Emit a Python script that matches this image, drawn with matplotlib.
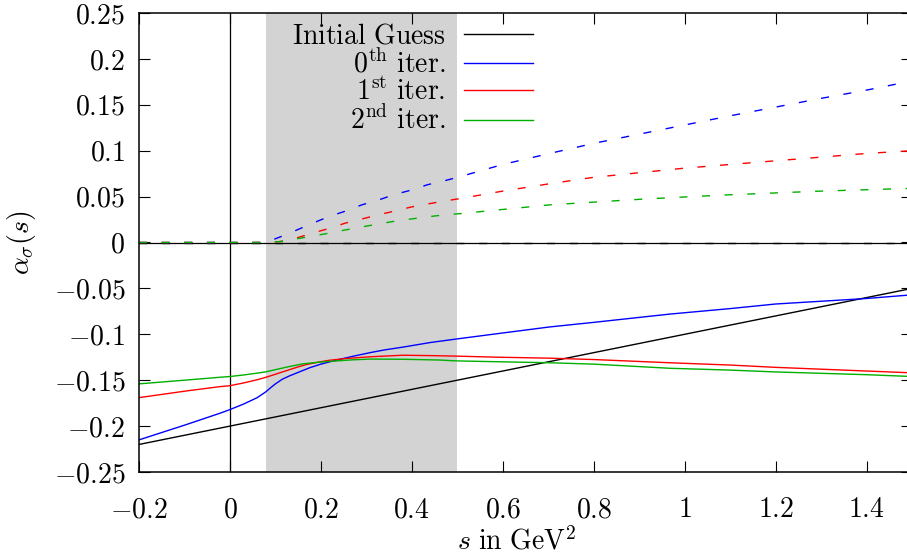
import matplotlib
matplotlib.use("Agg")
import matplotlib.pyplot as plt
from matplotlib.ticker import FuncFormatter, MultipleLocator

# threshold region (4 m_pi^2 up to 0.5 GeV^2)
shade_lo = 0.0784
shade_hi = 0.5

# initial guess (straight line)
guess_s = [-0.2, 1.5]
guess_re = [-0.22, -0.05]
guess_im = [0.0, 0.0]

# 0th iteration
it0_s = [-0.2, -0.1, -0.022, 0.0, 0.03, 0.06, 0.078, 0.09, 0.1, 0.115, 0.13, 0.15, 0.175, 0.2,
         0.235, 0.27, 0.308, 0.34, 0.38, 0.44, 0.5, 0.593, 0.703, 0.8, 0.967, 1.1, 1.2, 1.3,
         1.4, 1.5]
it0_re = [-0.215, -0.199, -0.186, -0.182, -0.176, -0.169, -0.163, -0.158, -0.154, -0.149,
          -0.1455, -0.1415, -0.1365, -0.1325, -0.128, -0.124, -0.120, -0.117, -0.114, -0.109,
          -0.105, -0.099, -0.092, -0.087, -0.078, -0.072, -0.067, -0.064, -0.061, -0.057]

# 1st iteration
it1_s = [-0.2, -0.1, -0.022, 0.0, 0.03, 0.06, 0.078, 0.1, 0.125, 0.15, 0.169, 0.2, 0.22, 0.26,
         0.308, 0.38, 0.44, 0.5, 0.593, 0.703, 0.8, 0.967, 1.1, 1.2, 1.3, 1.4, 1.5]
it1_re = [-0.169, -0.162, -0.157, -0.156, -0.153, -0.1495, -0.147, -0.1435, -0.1395, -0.1355,
          -0.1328, -0.1298, -0.1282, -0.1262, -0.1245, -0.1228, -0.1232, -0.1238, -0.125,
          -0.126, -0.1275, -0.131, -0.1335, -0.136, -0.138, -0.140, -0.142]

# 2nd iteration
it2_s = [-0.2, -0.1, -0.022, 0.0, 0.03, 0.06, 0.078, 0.1, 0.13, 0.16, 0.2, 0.235, 0.27, 0.308,
         0.38, 0.46, 0.5, 0.6, 0.703, 0.8, 0.967, 1.1, 1.2, 1.3, 1.4, 1.5]
it2_re = [-0.154, -0.150, -0.1468, -0.146, -0.1443, -0.1423, -0.141, -0.1385, -0.1352, -0.1322,
          -0.1302, -0.129, -0.1278, -0.127, -0.1272, -0.128, -0.129, -0.130, -0.131, -0.1325,
          -0.137, -0.139, -0.141, -0.1425, -0.144, -0.146]

# imaginary parts (dashed), zero below threshold
im_s = [-0.2, 0.0, 0.0784, 0.11, 0.147, 0.182, 0.216, 0.253, 0.29, 0.325, 0.36, 0.398, 0.435,
        0.47, 0.508, 0.6, 0.703, 0.8, 0.9, 1.0, 1.1, 1.2, 1.3, 1.4, 1.5]
it0_im = [0.0, 0.0, 0.0, 0.006, 0.0136, 0.021, 0.028, 0.034, 0.041, 0.046, 0.052, 0.057, 0.063,
          0.067, 0.072, 0.085, 0.097, 0.108, 0.118, 0.128, 0.138, 0.1475, 0.157, 0.166, 0.176]
it1_im = [0.0, 0.0, 0.0, 0.001, 0.005, 0.0103, 0.015, 0.021, 0.0256, 0.030, 0.034, 0.0386, 0.042,
          0.045, 0.048, 0.056, 0.064, 0.071, 0.076, 0.081, 0.085, 0.089, 0.093, 0.097, 0.100]
it2_im = [0.0, 0.0, 0.0, 0.001, 0.004, 0.007, 0.010, 0.0136, 0.017, 0.020, 0.023, 0.0256, 0.028,
          0.030, 0.0315, 0.036, 0.041, 0.044, 0.047, 0.0496, 0.052, 0.054, 0.056, 0.0575, 0.059]

labels = [r"$\mathrm{Initial\ Guess}$", r"$0^{\mathrm{th}}\ \mathrm{iter.}$",
          r"$1^{\mathrm{st}}\ \mathrm{iter.}$", r"$2^{\mathrm{nd}}\ \mathrm{iter.}$"]
colors = ["black", "#0000ff", "#ff0000", "#00b000"]

plt.rcParams["mathtext.fontset"] = "cm"
plt.rcParams["font.family"] = "serif"
plt.rcParams["font.serif"] = ["cmr10", "DejaVu Serif"]
plt.rcParams["font.size"] = 20

fig = plt.figure(figsize=(9.07, 5.58), dpi=100)
ax = fig.add_axes([139 / 907, 1 - 472 / 558, 773 / 907, 459 / 558])

ax.axvspan(shade_lo, shade_hi, color="#d3d3d3", lw=0, zorder=0)
ax.axhline(0, color="black", lw=0.9, zorder=1)
ax.axvline(0, color="black", lw=0.9, zorder=1)

dash = (0, (5.8, 10.5))
series = [(guess_s, guess_re, guess_s, guess_im),
          (it0_s, it0_re, im_s, it0_im),
          (it1_s, it1_re, im_s, it1_im),
          (it2_s, it2_re, im_s, it2_im)]
handles = []
for (sr, re, si, im), c, lab in zip(series, colors, labels):
    h, = ax.plot(sr, re, color=c, lw=1.0, label=lab, zorder=2)
    ax.plot(si, im, color=c, lw=1.0, linestyle=dash, zorder=2)
    handles.append(h)

ax.set_xlim(-0.2, 1.5)
ax.set_ylim(-0.25, 0.25)
ax.xaxis.set_major_locator(MultipleLocator(0.2))
ax.yaxis.set_major_locator(MultipleLocator(0.05))
fmt = FuncFormatter(lambda v, p: "$%g$" % round(v, 4))
ax.xaxis.set_major_formatter(fmt)
ax.yaxis.set_major_formatter(fmt)
ax.tick_params(direction="in", length=8, width=0.8, top=True, right=True, labelsize=20)
ax.tick_params(axis="x", pad=18)
ax.tick_params(axis="y", pad=10)
for sp in ax.spines.values():
    sp.set_linewidth(1.1)

ax.set_xlabel(r"$s\ \mathrm{in\ GeV}^2$", fontsize=20)
ax.set_ylabel(r"$\alpha_\sigma(s)$", fontsize=20)
ax.xaxis.set_label_coords(0.489, -0.12)
ax.yaxis.set_label_coords(-0.131, 0.5)

ax.legend(handles=handles, loc="upper right", bbox_to_anchor=(0.5097, 0.978),
          frameon=False, markerfirst=False, handlelength=2.5, handletextpad=0.65,
          labelspacing=0.0, borderpad=0, borderaxespad=0, fontsize=20)

fig.savefig("out.png", dpi=100)
